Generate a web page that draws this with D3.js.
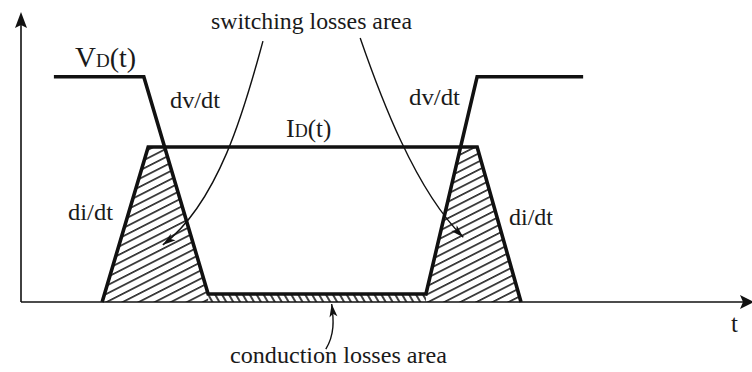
<!DOCTYPE html>
<html>
<head>
<meta charset="utf-8">
<script src="https://cdn.jsdelivr.net/npm/d3@7"></script>
<style>
  html, body { margin: 0; padding: 0; background: #fff; }
  svg { display: block; }
  text { font-family: "Liberation Serif", "Times New Roman", serif; fill: #1a1a1a; }
</style>
</head>
<body>
<svg id="chart" width="752" height="372"></svg>
<script>
// ---- data (time units 0..100, value units 0..10) ----
const vTimes  = [4.5, 16.8, 25.6, 55.4, 62.4, 76.9];
const vValues = [7.85, 7.85, 0.28, 0.28, 7.85, 7.85];
const iTimes  = [11.1, 17.4, 62.4, 68.4];
const iValues = [0, 5.4, 5.4, 0];

const labelTexts = ["switching losses area", "dv/dt", "dv/dt", "di/dt", "di/dt", "conduction losses area", "t"];

// annotation arrows (bezier: start, c1, c2, end) in data units
const arrowLeft  = [[33.1, 9.09], [31.05, 7.21], [27.5, 3.55], [19.4, 1.99]];
const arrowRight = [[46.4, 9.2], [49.1, 7.21], [53.9, 3.9], [60.5, 2.26]];
const arrowCond  = [[41.7, -1.64], [42.9, -1.15], [42.8, -0.63], [42.5, -0.07]];

// ---- scales ----
const x = d3.scaleLinear().domain([0, 100]).range([21, 752]);
const y = d3.scaleLinear().domain([0, 10]).range([302, 15]);

const svg = d3.select("#chart");
const ink = "#111";

const vData = vTimes.map((t, i) => [t, vValues[i]]);
const iData = iTimes.map((t, i) => [t, iValues[i]]);

function valAt(data, t) {
  if (t <= data[0][0]) return data[0][1];
  if (t >= data[data.length - 1][0]) return data[data.length - 1][1];
  for (let k = 0; k < data.length - 1; k++) {
    const a = data[k], b = data[k + 1];
    if (t >= a[0] && t <= b[0]) return a[1] + (b[1] - a[1]) * (t - a[0]) / (b[0] - a[0]);
  }
}

// min(V, I) polygon over the I support (exact, with crossings)
let ts = Array.from(new Set([...vTimes, ...iTimes]))
  .filter(t => t >= iTimes[0] && t <= iTimes[iTimes.length - 1]).sort((a, b) => a - b);
let pts = [];
for (let k = 0; k < ts.length; k++) {
  const t = ts[k];
  pts.push([t, Math.min(valAt(vData, t), valAt(iData, t))]);
  if (k < ts.length - 1) {
    const t2 = ts[k + 1];
    const d1 = valAt(vData, t) - valAt(iData, t);
    const d2 = valAt(vData, t2) - valAt(iData, t2);
    if (d1 * d2 < 0) {
      const tc = t + (t2 - t) * d1 / (d1 - d2);
      pts.push([tc, valAt(vData, tc)]);
    }
  }
}

const defs = svg.append("defs");
defs.append("pattern").attr("id", "hatch").attr("patternUnits", "userSpaceOnUse")
  .attr("width", 12).attr("height", 7.3).attr("patternTransform", "rotate(-27)")
  .append("line").attr("x1", 0).attr("x2", 12).attr("y1", 3.6).attr("y2", 3.6)
  .attr("stroke", ink).attr("stroke-width", 1.5);
defs.append("pattern").attr("id", "hatch2").attr("patternUnits", "userSpaceOnUse")
  .attr("width", 6).attr("height", 12).attr("patternTransform", "rotate(-30)")
  .append("line").attr("x1", 3).attr("x2", 3).attr("y1", 0).attr("y2", 12)
  .attr("stroke", ink).attr("stroke-width", 1.6);

// clip paths split switching vs conduction region
const tFallEnd = vTimes[2], tRiseStart = vTimes[3];
defs.append("clipPath").attr("id", "clipSw").append("path")
  .attr("d", `M${x(0)},0H${x(tFallEnd)}V372H${x(0)}Z M${x(tRiseStart)},0H752V372H${x(tRiseStart)}Z`);
defs.append("clipPath").attr("id", "clipCond").append("rect")
  .attr("x", x(tFallEnd)).attr("y", 0).attr("width", x(tRiseStart) - x(tFallEnd)).attr("height", 372);

const area = d3.area().x(d => x(d[0])).y0(y(0)).y1(d => y(d[1]));
svg.append("path").attr("d", area(pts)).attr("fill", "url(#hatch)").attr("clip-path", "url(#clipSw)");
svg.append("path").attr("d", area(pts)).attr("fill", "url(#hatch2)").attr("clip-path", "url(#clipCond)");

// axes
svg.append("line").attr("x1", x(0)).attr("x2", 748).attr("y1", y(0)).attr("y2", y(0))
  .attr("stroke", ink).attr("stroke-width", 1.6);
svg.append("line").attr("x1", x(0)).attr("x2", x(0)).attr("y1", y(0)).attr("y2", 22)
  .attr("stroke", ink).attr("stroke-width", 1.6);
// y arrow
svg.append("path").attr("d", `M${x(0)},12 L${x(0) + 6},28 L${x(0)},25 L${x(0) - 6},28 Z`).attr("fill", ink);
// x arrow
svg.append("path").attr("d", `M754,${y(0)} L740,${y(0) - 7} L743,${y(0)} L740,${y(0) + 7} Z`).attr("fill", ink);

// waveforms
const line = d3.line().x(d => x(d[0])).y(d => y(d[1]));
svg.append("path").attr("d", line(iData)).attr("fill", "none").attr("stroke", ink)
  .attr("stroke-width", 3.6).attr("stroke-linejoin", "miter");
svg.append("path").attr("d", line(vData)).attr("fill", "none").attr("stroke", ink)
  .attr("stroke-width", 3.6).attr("stroke-linejoin", "miter");

// annotation arrows
function drawArrow(c) {
  const p = c.map(d => [x(d[0]), y(d[1])]);
  svg.append("path").attr("d", `M${p[0]}C${p[1]} ${p[2]} ${p[3]}`)
    .attr("fill", "none").attr("stroke", ink).attr("stroke-width", 1.4);
  const [ex, ey] = p[3], [cx, cy] = p[2];
  const len = Math.hypot(ex - cx, ey - cy), ux = (ex - cx) / len, uy = (ey - cy) / len;
  const L = 13, W = 4;
  const bx = ex - ux * L, by = ey - uy * L;
  svg.append("path").attr("d",
    `M${ex},${ey} L${bx - uy * W},${by + ux * W} L${ex - ux * L * 0.75},${ey - uy * L * 0.75} L${bx + uy * W},${by - ux * W} Z`)
    .attr("fill", ink);
}
drawArrow(arrowLeft);
drawArrow(arrowRight);
drawArrow(arrowCond);

// labels
function label(txt, px, py, size, len) {
  const t = svg.append("text").attr("x", px).attr("y", py).attr("font-size", size).text(txt);
  if (len) t.attr("textLength", len).attr("lengthAdjust", "spacingAndGlyphs");
  return t;
}
label(labelTexts[0], 211, 29, 24, 201);
label(labelTexts[1], 170, 108, 24, 50);
label(labelTexts[2], 409, 105, 24, 51);
label(labelTexts[3], 68, 220, 24, 45);
label(labelTexts[4], 509, 225, 24, 44);
label(labelTexts[5], 230, 363, 24, 217);
label(labelTexts[6], 731, 332, 25);

// V_D(t)
const vt = svg.append("text").attr("x", 75).attr("y", 67);
vt.append("tspan").attr("font-size", 29).text("V");
vt.append("tspan").attr("font-size", 19).text("D");
vt.append("tspan").attr("font-size", 28).text("(t)");
// I_D(t)
const it = svg.append("text").attr("x", 286).attr("y", 137);
it.append("tspan").attr("font-size", 26).text("I");
it.append("tspan").attr("font-size", 18).text("D");
it.append("tspan").attr("font-size", 25).text("(t)");
</script>
</body>
</html>
